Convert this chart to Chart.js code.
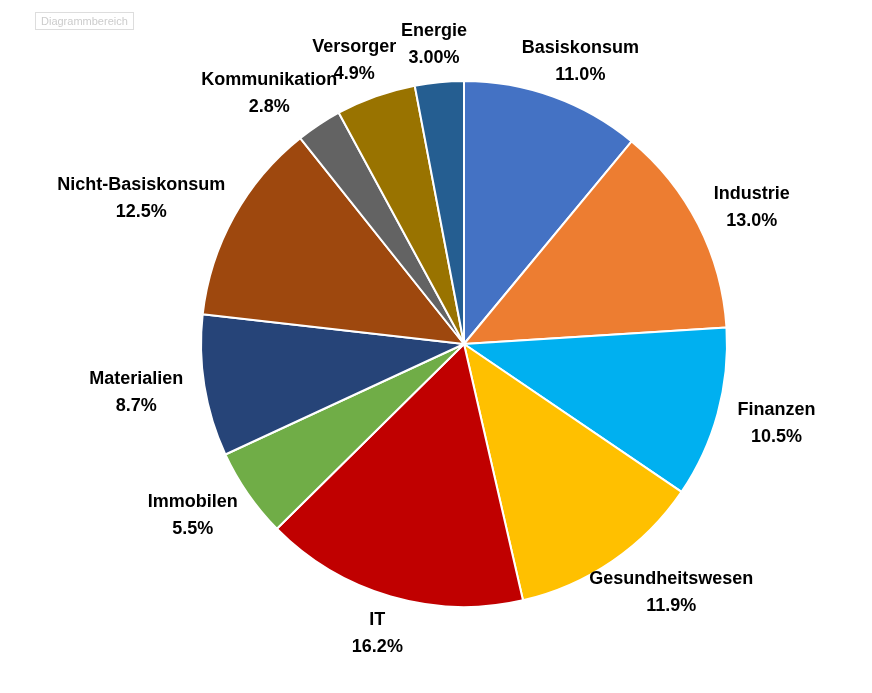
<!DOCTYPE html>
<html><head><meta charset="utf-8">
<script src="https://cdn.jsdelivr.net/npm/chart.js@4/dist/chart.umd.min.js"></script>
<style>
body{margin:0;background:#fff;}
#wrap{position:relative;width:872px;height:693px;}
#tag{position:absolute;left:35px;top:12px;border:1px solid #ddd;font:11px "Liberation Sans",sans-serif;color:#ccc;padding:2px 5px;}
</style></head>
<body>
<div id="wrap"><canvas id="c" width="872" height="693"></canvas><div id="tag">Diagrammbereich</div></div>
<script>
var sektoren = ['Basiskonsum','Industrie','Finanzen','Gesundheitswesen','IT','Immobilen','Materialien','Nicht-Basiskonsum','Kommunikation','Versorger','Energie'];
var anteile = [11.0,13.0,10.5,11.9,16.2,5.5,8.7,12.5,2.8,4.9,3.0];
var anteilText = ['11.0%','13.0%','10.5%','11.9%','16.2%','5.5%','8.7%','12.5%','2.8%','4.9%','3.00%'];
var farben = ['#4472C4','#ED7D31','#00B0F0','#FFC000','#C00000','#70AD47','#264478','#9E480E','#636363','#997300','#255E91'];

// Beschriftungen ausserhalb der Kreisstuecke
var labelPlugin = {
  id: 'aussenLabels',
  afterDraw: function (chart) {
    var ctx = chart.ctx;
    var meta = chart.getDatasetMeta(0);
    ctx.save();
    ctx.font = 'bold 18px "Liberation Sans", sans-serif';
    ctx.fillStyle = '#000';
    ctx.textAlign = 'center';
    ctx.textBaseline = 'middle';
    meta.data.forEach(function (arc, i) {
      var a = (arc.startAngle + arc.endAngle) / 2;
      var s = Math.cos(a), c = -Math.sin(a);
      var r = arc.outerRadius;
      var w = Math.max(ctx.measureText(sektoren[i]).width, ctx.measureText(anteilText[i]).width);
      var x = arc.x + s * (r + 22) + s * w / 2;
      var y = arc.y - c * (r + 38);
      ctx.fillText(sektoren[i], x, y - 13);
      ctx.fillText(anteilText[i], x, y + 14);
    });
    ctx.restore();
  }
};

new Chart(document.getElementById('c').getContext('2d'), {
  type: 'pie',
  data: {
    labels: sektoren,
    datasets: [{ data: anteile, backgroundColor: farben, borderColor: '#fff', borderWidth: 2 }]
  },
  options: {
    responsive: false,
    animation: false,
    layout: { padding: { left: 200, right: 144, top: 80, bottom: 85 } },
    plugins: { legend: { display: false }, tooltip: { enabled: false } }
  },
  plugins: [labelPlugin]
});
</script>
</body></html>
